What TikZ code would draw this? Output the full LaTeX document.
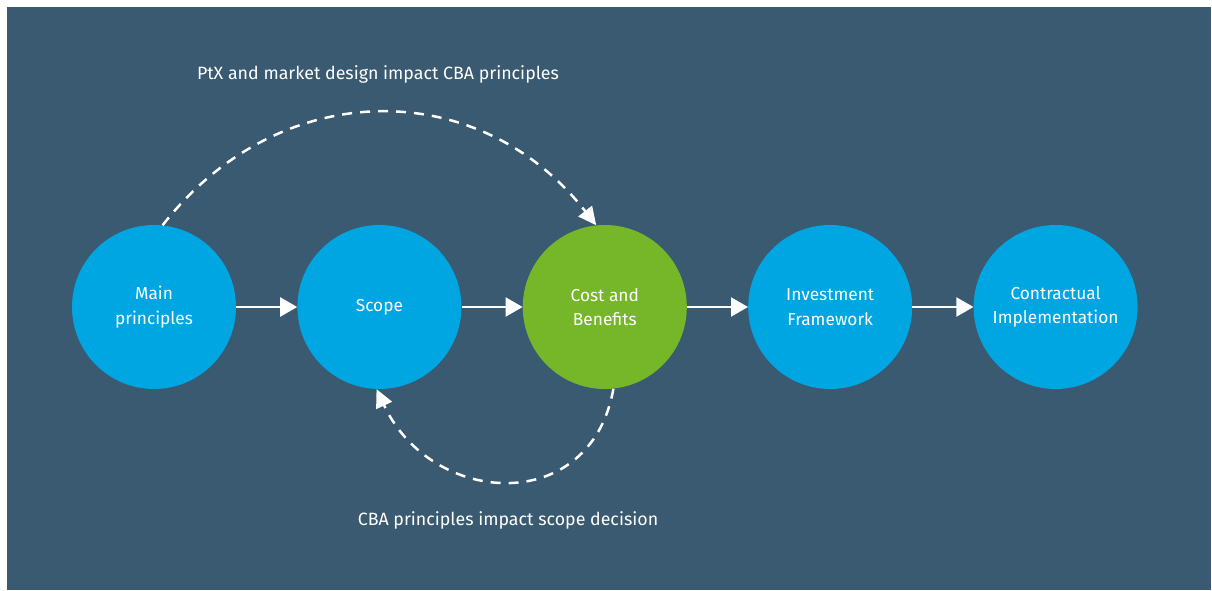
\documentclass[tikz,border=0pt]{standalone}
\usepackage{fontspec}
\setmainfont{Fira Sans}
\usetikzlibrary{arrows.meta,positioning}
\definecolor{slate}{HTML}{395A70}
\definecolor{skyblue}{HTML}{00A6E2}
\definecolor{leafgreen}{HTML}{76B72A}

\begin{document}
\begin{tikzpicture}[x=1pt,y=1pt,node distance=61pt,stage/.style={circle,fill=skyblue,text=white,align=center,minimum size=164pt,inner sep=0pt,font=\fontsize{17.3}{24.5}\selectfont},arrow/.style={-{Triangle[length=17pt,width=19pt]},white,line width=2.2pt},loopback/.style={-{Triangle[length=18pt,width=17pt]},white,line width=2.5pt,dash pattern=on 10pt off 8pt},note/.style={text=white,font=\fontsize{17.8}{20}\selectfont}]
\useasboundingbox (0,0) rectangle (1212,590);
\fill[slate] (7,0) rectangle (1211,583);
\node[stage] (main) at (154,283) {Main\\principles};
\node[stage,right=of main] (scope) {Scope};
\node[stage,fill=leafgreen,right=of scope] (cba) {Cost and\\Benefits};
\node[stage,right=of cba] (invest) {Investment\\Framework};
\node[stage,right=of invest] (contract) {Contractual\\Implementation};
\draw[arrow] (main)--(scope); \draw[arrow] (scope)--(cba);
\draw[arrow] (cba)--(invest); \draw[arrow] (invest)--(contract);
% feedback loops between the stages
\draw[loopback] (main.84) .. controls +(52:190) and +(128:190) .. (cba.96);
\draw[loopback] (cba.276) .. controls +(260:130) and +(295:130) .. (scope.268);
\node[note] (ptx) at (378,516) {PtX and market design impact CBA principles};
\node[note] (scopenote) at (508,70) {CBA principles impact scope decision};
\end{tikzpicture}
\end{document}
